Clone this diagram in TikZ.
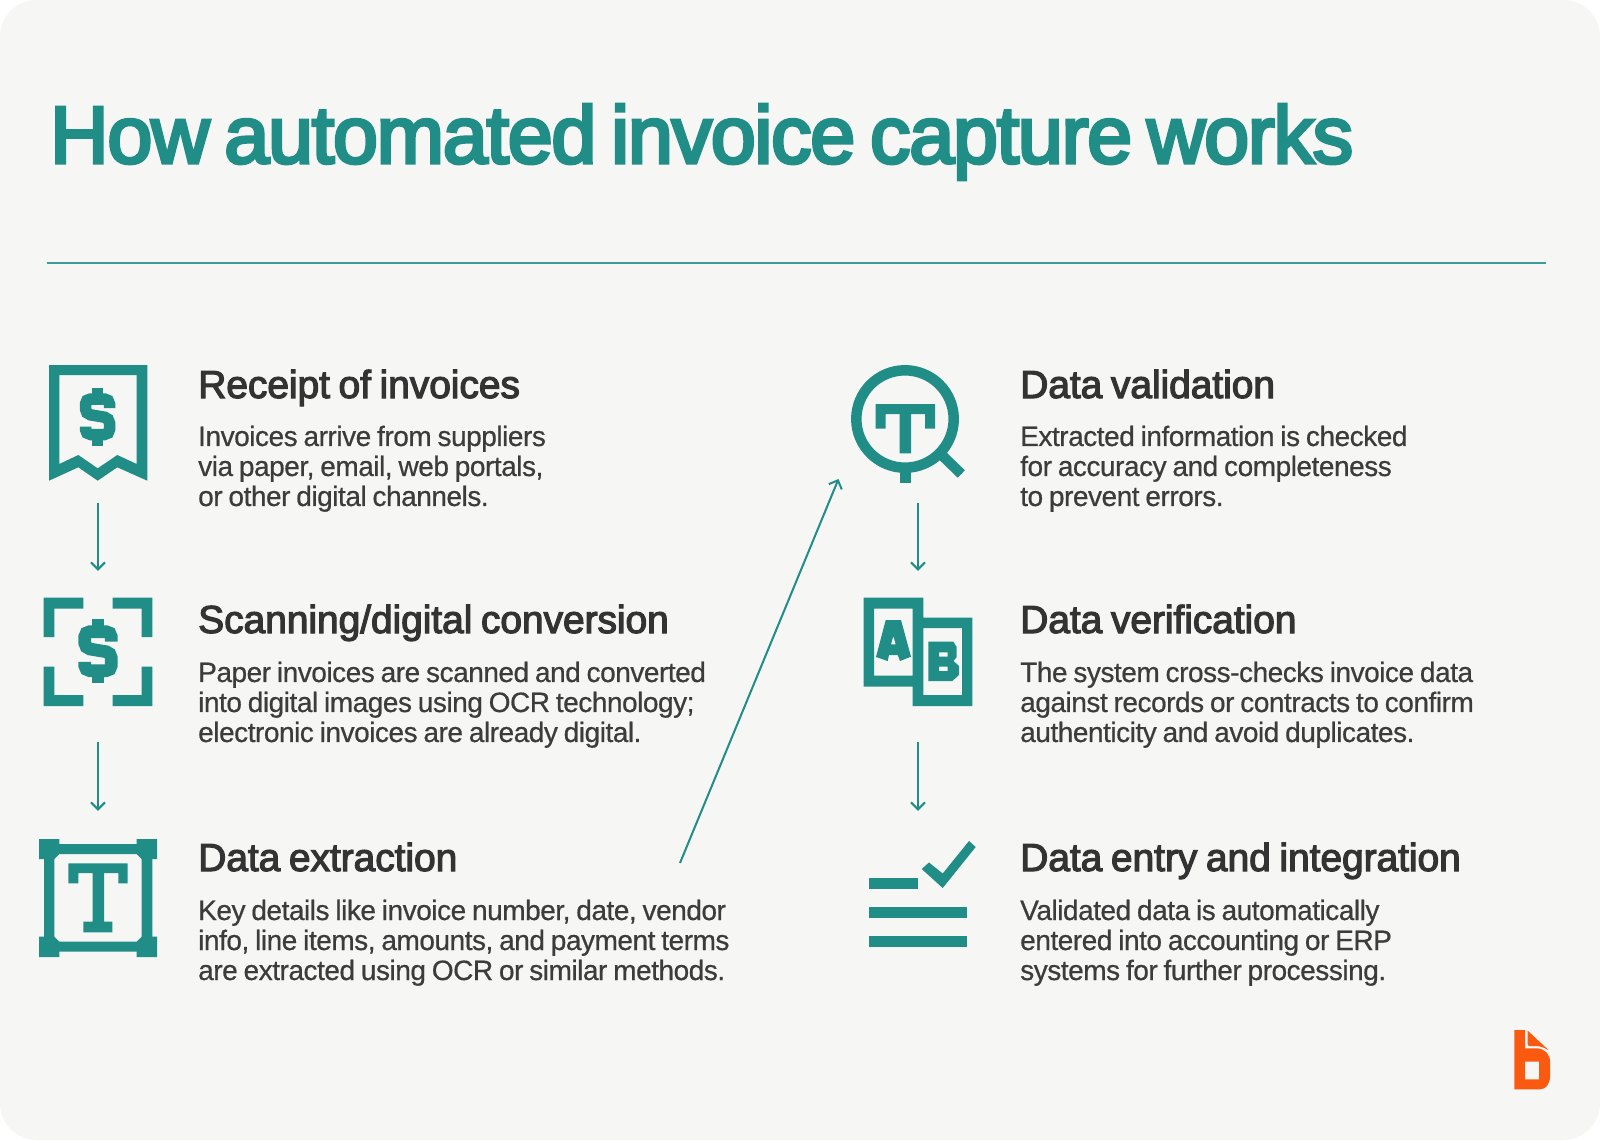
\documentclass[tikz,border=0pt]{standalone}
\usepackage{fontspec}
\usetikzlibrary{arrows.meta}
\setmainfont{Liberation Sans}
\newfontfamily\titlefont[FakeBold=4,LetterSpace=-1.65,WordSpace=0.7]{Liberation Sans}
\newfontfamily\headfont[FakeBold=3,LetterSpace=-0.2,WordSpace=0.8]{Liberation Sans}
\newfontfamily\bodyfont[FakeBold=0.6,LetterSpace=-1.65,WordSpace=0.8]{Liberation Sans}
\definecolor{teal}{HTML}{218D87}
\definecolor{rulecol}{HTML}{3F9C97}
\definecolor{card}{HTML}{F6F6F5}
\definecolor{inkhead}{HTML}{333333}
\definecolor{inkbody}{HTML}{3C3C3C}
\definecolor{logoor}{HTML}{FA5A10}
\tikzset{
  x=1pt,y=-1pt,
  titletext/.style={anchor=base west,inner sep=0,text=teal,font=\titlefont\fontsize{81}{90}\selectfont},
  headtext/.style={anchor=base west,inner sep=0,text=inkhead,font=\headfont\fontsize{39}{44}\selectfont},
  bodytext/.style={anchor=north west,inner sep=0,align=left,text=inkbody,font=\bodyfont\fontsize{28}{30}\selectfont},
  iconbox/.style={inner sep=0,minimum width=100pt,minimum height=#1},
  flow/.style={draw=teal,line width=2pt,-{Straight Barb[length=7pt,width=14pt,line width=2pt]}},
  iconline/.style={draw=teal,line width=10.5pt},
}
\newcommand{\dollarglyph}[4]{% x, y, scale, stroke
  \begin{scope}[shift={(#1,#2)},scale=#3]
    \draw[draw=teal,line width=#4,rounded corners=5pt]
      (12,-9.5) -- (12,-18.5) -- (-12,-18.5) -- (-12,-3.5) -- (12,0.5) -- (12,17) -- (-12,17) -- (-12,9);
    \fill[teal] (-5.3,-29.8) rectangle (5.3,-20);
    \fill[teal] (-5.3,20) rectangle (5.3,28.5);
  \end{scope}}
\begin{document}
\begin{tikzpicture}
\useasboundingbox (0,0) rectangle (1600,1140);
\fill[white] (0,0) rectangle (1600,1140);
\fill[card,rounded corners=37pt] (0,0) rectangle (1600,1140);

\node[titletext] (title) at (50,163) {How automated invoice capture works};
\draw[draw=rulecol,line width=2pt] (47,263) -- (1546,263);

% invisible icon holders
\node[iconbox=116pt] (i1) at (98,423) {};
\node[iconbox=108pt] (i2) at (98,652) {};
\node[iconbox=118pt] (i3) at (98,898) {};
\node[iconbox=116pt] (i4) at (918,423) {};
\node[iconbox=108pt] (i5) at (918,652) {};
\node[iconbox=118pt] (i6) at (918,898) {};
\coordinate (crossfrom) at (680,863);
\coordinate (crossto) at (838.5,479);

\draw[flow,shorten <=22pt,shorten >=27pt] (i1.south) -- (i2.north);
\draw[flow,shorten <=36pt,shorten >=28pt] (i2.south) -- (i3.north);
\draw[flow,shorten <=22pt,shorten >=27pt] (i4.south) -- (i5.north);
\draw[flow,shorten <=36pt,shorten >=28pt] (i5.south) -- (i6.north);
\draw[flow] (crossfrom) -- (crossto);

% icon 1: receipt
\fill[teal,even odd rule]
  (49,365) -- (147.3,365) -- (147.3,480.7) -- (117.3,467.3) -- (97.7,480.7) -- (78.3,467.3) -- (49,480.7) -- cycle
  (59.3,375) -- (59.3,464) -- (78.3,455) -- (97.7,468.3) -- (117.3,455) -- (136.7,464) -- (136.7,375) -- cycle;
\dollarglyph{97.5}{417.5}{1}{11.5pt}

% icon 2: scan frame
\fill[teal] (43.7,597.6) -- (83.3,597.6) -- (83.3,608.6) -- (54.3,608.6) -- (54.3,637) -- (43.7,637) -- cycle;
\fill[teal] (152.3,597.6) -- (112.7,597.6) -- (112.7,608.6) -- (141.7,608.6) -- (141.7,637) -- (152.3,637) -- cycle;
\fill[teal] (43.7,706) -- (83.3,706) -- (83.3,695) -- (54.3,695) -- (54.3,666.5) -- (43.7,666.5) -- cycle;
\fill[teal] (152.3,706) -- (112.7,706) -- (112.7,695) -- (141.7,695) -- (141.7,666.5) -- (152.3,666.5) -- cycle;
\dollarglyph{98}{652}{1.1}{12.7pt}

% icon 3: T frame
\fill[teal,even odd rule] (44,844) rectangle (152.3,951.7) (54.3,854) rectangle (141.7,941.7);
\fill[teal] (39,839) -- (59.3,839) -- (59.3,854) -- (54.3,859) -- (39,859) -- cycle;
\fill[teal] (157,839) -- (136.7,839) -- (136.7,854) -- (141.7,859) -- (157,859) -- cycle;
\fill[teal] (39,957) -- (59.3,957) -- (59.3,941.7) -- (54.3,936.7) -- (39,936.7) -- cycle;
\fill[teal] (157,957) -- (136.7,957) -- (136.7,941.7) -- (141.7,936.7) -- (157,936.7) -- cycle;
\fill[teal] (68.3,863.3) -- (127.7,863.3) -- (127.7,883.3) -- (118.3,883.3) -- (118.3,873) -- (104,873) -- (104,921.7) -- (112.3,921.7) -- (112.3,932.3) -- (83.3,932.3) -- (83.3,921.7) -- (92.7,921.7) -- (92.7,873) -- (78.3,873) -- (78.3,883.3) -- (68.3,883.3) -- cycle;

% icon 4: magnifier
\draw[iconline] (905,419) circle[radius=48.7pt];
\fill[teal] (875.7,404) -- (935,404) -- (935,428.7) -- (925,428.7) -- (925,414) -- (911,414) -- (911,453.3) -- (899.5,453.3) -- (899.5,414) -- (885.7,414) -- (885.7,428.7) -- (875.7,428.7) -- cycle;
\fill[teal] (900,470) rectangle (910.5,482.7);
\draw[draw=teal,line width=10.3pt] (943,456.3) -- (961.3,474);

% icon 5: A B pages
\fill[teal,even odd rule]
  (863.7,597.6) -- (923.3,597.6) -- (923.3,617.6) -- (972.3,617.6) -- (972.3,706) -- (912.7,706) -- (912.7,686.5) -- (863.7,686.5) -- cycle
  (874,608.6) rectangle (912.7,675.5)
  (923.3,628) rectangle (962,695);
\fill[teal,even odd rule]
  (885.7,620) -- (901,620) -- (911,656.7) -- (900,661) -- (897.7,655) -- (889,655) -- (887.7,661) -- (876,657) -- cycle
  (893.3,636) -- (891,644.3) -- (895.7,644.3) -- cycle;
\fill[teal,even odd rule]
  (928.3,641.7) -- (953.3,641.7) -- (956.7,647) -- (956.7,657) -- (953.5,661) -- (959,666) -- (959,675) -- (952.3,681) -- (928.3,681) -- cycle
  (939,652.3) rectangle (947.7,656.7)
  (939,666.7) rectangle (947.7,671);

% icon 6: list with check
\fill[teal] (869,878) rectangle (918,888.6);
\fill[teal] (869,907) rectangle (967,918);
\fill[teal] (869,936.3) rectangle (967,947.3);
\fill[teal] (921.7,869) -- (929,862.5) -- (942.7,873.5) -- (969,841) -- (975.7,847) -- (942.7,888) -- cycle;

% logo
\fill[logoor,even odd rule]
  (1514.3,1030) -- (1525,1030) -- (1525,1048.3) -- (1537,1048.3) .. controls (1545,1049) and (1550,1054) .. (1550,1062) -- (1550,1076) .. controls (1550,1084) and (1546,1089.3) .. (1540,1089.3) -- (1514.3,1089.3) -- cycle
  (1525,1061.7) rectangle (1539,1079.3);
\fill[logoor] (1527.7,1030.7) -- (1548.5,1050) .. controls (1546,1049) and (1542,1046) .. (1536,1046) -- (1529.5,1046) .. controls (1528.3,1046) and (1527.7,1045) .. (1527.7,1044) -- cycle;

% texts
\node[headtext] (h1) at (198,398) {Receipt of invoices};
\node[bodytext] (b1) at (198,425.5) {Invoices arrive from suppliers\\via paper, email, web portals,\\or other digital channels.};
\node[headtext] (h2) at (198,633) {Scanning/digital conversion};
\node[bodytext] (b2) at (198,661.5) {Paper invoices are scanned and converted\\into digital images using OCR technology;\\electronic invoices are already digital.};
\node[headtext] (h3) at (198,871) {Data extraction};
\node[bodytext] (b3) at (198,899.5) {Key details like invoice number, date, vendor\\info, line items, amounts, and payment terms\\are extracted using OCR or similar methods.};
\node[headtext] (h4) at (1020,398) {Data validation};
\node[bodytext] (b4) at (1020,425.5) {Extracted information is checked\\for accuracy and completeness\\to prevent errors.};
\node[headtext] (h5) at (1020,633) {Data verification};
\node[bodytext] (b5) at (1020,661.5) {The system cross-checks invoice data\\against records or contracts to confirm\\authenticity and avoid duplicates.};
\node[headtext] (h6) at (1020,871) {Data entry and integration};
\node[bodytext] (b6) at (1020,899.5) {Validated data is automatically\\entered into accounting or ERP\\systems for further processing.};
\end{tikzpicture}
\end{document}
